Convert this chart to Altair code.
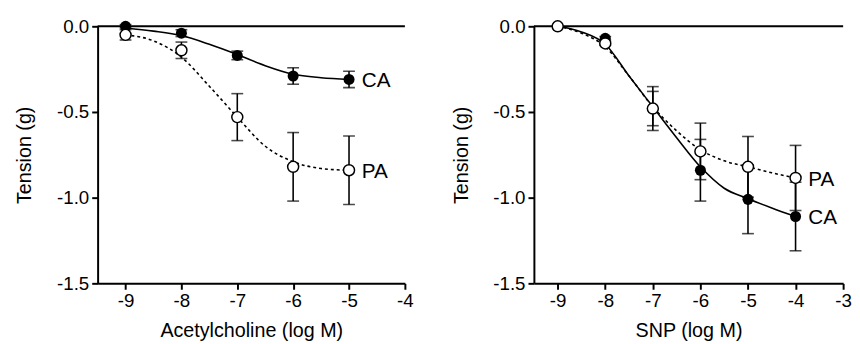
import altair as alt
import pandas as pd

# ---------------- data ----------------
ach_x = [-9, -8, -7, -6, -5]
ach_ca = [0.00, -0.04, -0.17, -0.29, -0.31]
ach_ca_err = [0.01, 0.02, 0.025, 0.048, 0.048]
ach_pa = [-0.05, -0.14, -0.53, -0.82, -0.84]
ach_pa_err = [0.03, 0.048, 0.137, 0.20, 0.20]
ach_curve_x = [-9, -8.5, -8, -7.5, -7, -6.5, -6, -5.5, -5]
ach_ca_curve = [-0.01, -0.028, -0.054, -0.105, -0.165, -0.23, -0.28, -0.30, -0.31]
ach_pa_curve = [-0.05, -0.085, -0.18, -0.35, -0.53, -0.70, -0.79, -0.83, -0.84]

snp_x = [-9, -8, -7, -6, -5, -4]
snp_ca = [0.00, -0.07, -0.48, -0.84, -1.01, -1.11]
snp_ca_err = [0.0, 0.01, 0.10, 0.18, 0.20, 0.20]
snp_pa = [0.00, -0.10, -0.48, -0.73, -0.82, -0.885]
snp_pa_err = [0.0, 0.01, 0.128, 0.165, 0.177, 0.19]
snp_curve_x = [-9, -8.5, -8, -7.5, -7, -6.5, -6, -5.5, -5, -4.5, -4]
snp_ca_curve = [0.0, -0.033, -0.105, -0.29, -0.47, -0.65, -0.82, -0.945, -1.006, -1.06, -1.11]
snp_pa_curve = [0.0, -0.04, -0.12, -0.29, -0.47, -0.61, -0.72, -0.785, -0.82, -0.855, -0.885]

y_ticks = [0.0, -0.5, -1.0, -1.5]
series_names = ["CA", "PA"]

FONT = "Liberation Sans"
MINUS_FIX = "replace(datum.label, '\u2212', '-')"


def panel(xs, ca, ca_err, pa, pa_err, cx, ca_curve, pa_curve, xdom, xticks, xtitle, w):
    pts = pd.DataFrame({
        "x": xs * 2,
        "y": ca + pa,
        "err": ca_err + pa_err,
        "grp": [series_names[0]] * len(xs) + [series_names[1]] * len(xs),
    })
    pts["lo"] = pts["y"] - pts["err"]
    pts["hi"] = pts["y"] + pts["err"]
    ca_pts = pts[pts.grp == "CA"]
    pa_pts = pts[pts.grp == "PA"]
    curves = pd.DataFrame({"x": cx, "ca": ca_curve, "pa": pa_curve})
    last = pts.groupby("grp").tail(1)

    xscale = alt.Scale(domain=xdom, nice=False, zero=False)
    yscale = alt.Scale(domain=[-1.5, 0], nice=False, zero=False)
    xaxis = alt.Axis(values=xticks, title=xtitle, labelExpr=MINUS_FIX, grid=False,
                     labelPadding=3, titlePadding=10, labelFlush=False)
    yaxis = alt.Axis(values=y_ticks, title="Tension (g)", format=".1f", labelExpr=MINUS_FIX,
                     grid=False, labelPadding=3, titlePadding=22, labelFlush=False)

    def X(f="x"):
        return alt.X(f"{f}:Q", scale=xscale, axis=xaxis, title=xtitle)

    def Y(f):
        return alt.Y(f"{f}:Q", scale=yscale, axis=yaxis, title="Tension (g)")

    base_c = alt.Chart(curves)
    ca_line = base_c.mark_line(color="black", strokeWidth=1.6, interpolate="monotone").encode(x=X(), y=Y("ca"))
    pa_line = base_c.mark_line(color="black", strokeWidth=1.6, strokeDash=[3, 3],
                               interpolate="monotone").encode(x=X(), y=Y("pa"))
    zero = alt.Chart(pd.DataFrame({"z": [0.0]})).mark_rule(color="black", strokeWidth=2).encode(y=Y("z"))

    errs = alt.Chart(pts[pts.err > 0]).mark_errorbar(ticks=True, size=12, thickness=1.6, color="black").encode(
        x=X(), y=Y("lo"), y2="hi:Q")

    ca_marks = alt.Chart(ca_pts).mark_circle(size=125, color="black", opacity=1).encode(x=X(), y=Y("y"))
    pa_marks = alt.Chart(pa_pts).mark_point(size=125, filled=True, fill="white", stroke="black",
                                            strokeWidth=1.5, opacity=1, shape="circle").encode(x=X(), y=Y("y"))
    labels = alt.Chart(last).mark_text(align="left", baseline="middle", dx=13, dy=2,
                                       font=FONT, fontSize=21, color="black").encode(
        x=X(), y=Y("y"), text="grp:N")

    return alt.layer(zero, errs, ca_line, pa_line, ca_marks, pa_marks, labels).properties(width=w, height=261)


left = panel(ach_x, ach_ca, ach_ca_err, ach_pa, ach_pa_err, ach_curve_x, ach_ca_curve, ach_pa_curve,
             [-9.5, -4], [-9, -8, -7, -6, -5, -4], "Acetylcholine (log M)", 312)
right = panel(snp_x, snp_ca, snp_ca_err, snp_pa, snp_pa_err, snp_curve_x, snp_ca_curve, snp_pa_curve,
              [-9.5, -3], [-9, -8, -7, -6, -5, -4, -3], "SNP (log M)", 314)

chart = alt.hconcat(left, right, spacing=38).properties(
    padding={"left": 7, "top": 7, "right": 0, "bottom": 0}
).configure_view(stroke=None).configure_axis(
    domainColor="black", domainWidth=2, tickColor="black", tickWidth=2, tickSize=6,
    labelFont=FONT, labelFontSize=19, labelColor="black",
    titleFont=FONT, titleFontSize=20, titleFontWeight="normal", titleColor="black",
)

chart.save("out.html", embed_options={"renderer": "svg", "actions": False})
